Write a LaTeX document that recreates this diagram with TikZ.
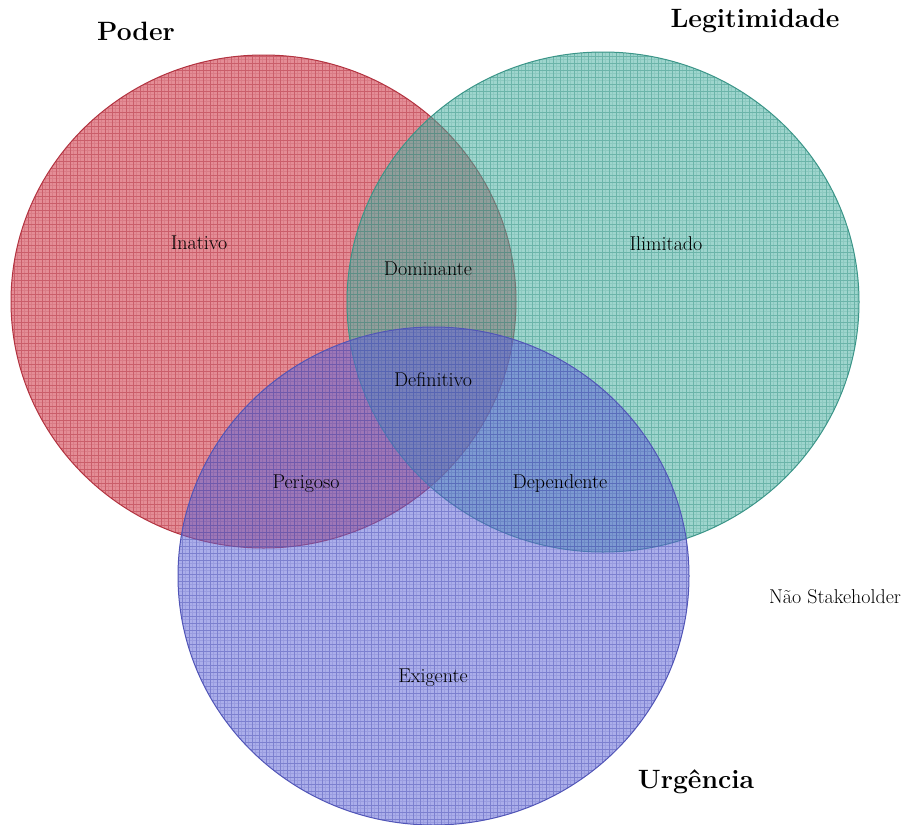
\documentclass[tikz,border=0pt]{standalone}
\begin{document}
\begin{tikzpicture}[x=1pt,y=1pt,
  lbl/.style={font=\fontsize{20}{24}\selectfont, inner sep=0pt},
  ttl/.style={font=\bfseries\fontsize{26.5}{30}\selectfont, inner sep=0pt},
  fine/.style={line width=0.5pt, opacity=0.18, step=3.5},
  coarse/.style={line width=0.8pt, opacity=0.4, step=7}]
\definecolor{pred}{RGB}{210,60,75}
\definecolor{pteal}{RGB}{70,175,160}
\definecolor{pblue}{RGB}{95,100,215}
\useasboundingbox (0,0) rectangle (903,-825);
\fill[white] (0,0) rectangle (903,-825);

% Poder
\def\shpred{(263.5,-301.5) ellipse [x radius=252.5, y radius=246.5]}
\fill[pred, fill opacity=0.58] \shpred;
\begin{scope}
  \clip \shpred;
  \draw[pred!85!black, fine] (0,0) grid (903,-825);
  \draw[pred!85!black, coarse] (0,0) grid (903,-825);
\end{scope}
\draw[pred!85!black, line width=1pt] \shpred;

% Legitimidade
\def\shteal{(603,-302) ellipse [x radius=256, y radius=250]}
\fill[pteal, fill opacity=0.52] \shteal;
\begin{scope}
  \clip \shteal;
  \draw[pteal!85!black, fine] (0,0) grid (903,-825);
  \draw[pteal!85!black, coarse] (0,0) grid (903,-825);
\end{scope}
\draw[pteal!85!black, line width=1pt] \shteal;

% Urgencia
\def\shblue{(433.5,-576) ellipse [x radius=255.5, y radius=249]}
\fill[pblue, fill opacity=0.52] \shblue;
\begin{scope}
  \clip \shblue;
  \draw[pblue!85!black, fine] (0,0) grid (903,-825);
  \draw[pblue!85!black, coarse] (0,0) grid (903,-825);
\end{scope}
\draw[pblue!85!black, line width=1pt] \shblue;

% Region labels
\node[lbl] (inativo) at (199,-243) {Inativo};
\node[lbl] (dominante) at (428,-269) {Dominante};
\node[lbl] (ilimitado) at (666,-244) {Ilimitado};
\node[lbl] (definitivo) at (433,-380) {Definitivo};
\node[lbl] (perigoso) at (306,-484) {Perigoso};
\node[lbl] (dependente) at (560,-484) {Dependente};
\node[lbl] (exigente) at (433,-678) {Exigente};
\node[lbl] (nao) at (835,-597) {Não Stakeholder};

% Set titles
\node[ttl] (poder) at (136,-31) {Poder};
\node[ttl] (legit) at (755,-21) {Legitimidade};
\node[ttl] (urg) at (696,-782) {Urgência};
\end{tikzpicture}
\end{document}
